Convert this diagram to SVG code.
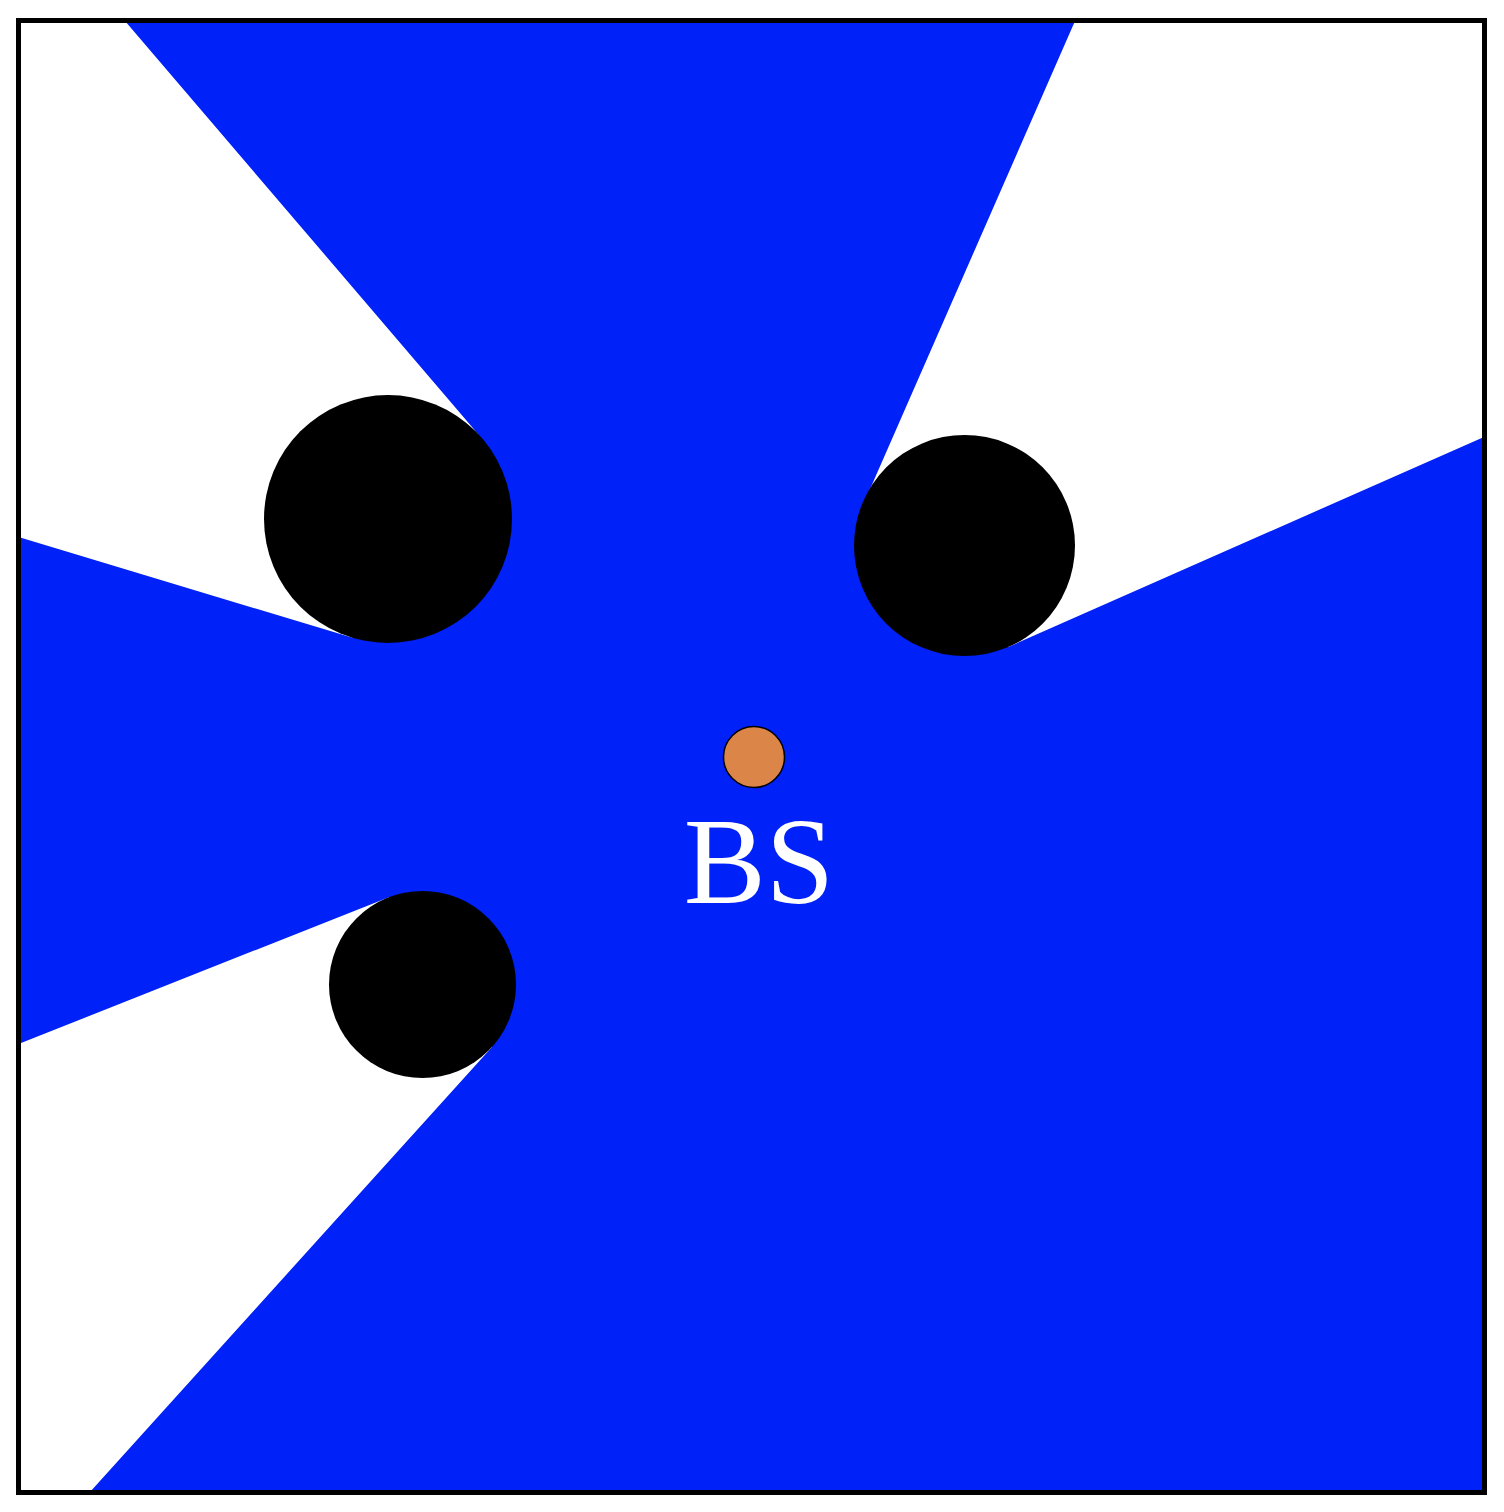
<svg xmlns="http://www.w3.org/2000/svg" width="1504" height="1512" viewBox="0 0 1504 1512">
  <style>
    .shadow { fill: #FFFFFF; stroke: none; }
    .obstacle { fill: #000000; }
    .label { font-family: "Liberation Serif", "Times New Roman", serif; font-size: 123px; fill: #FFFFFF; }
  </style>
  <rect x="0" y="0" width="1504" height="1512" fill="#FFFFFF"/>
  <g id="coverage">
    <rect x="18.5" y="20.5" width="1466" height="1472" fill="#0021F7"/>
    <polygon class="shadow" points="388,519 478,434 125,21 18.5,21 18.5,537 352.7,637.8"/>
    <polygon class="shadow" points="964.5,545.5 864.5,501.8 1075,21 1484,21 1484,437 1008.4,646.9"/>
    <polygon class="shadow" points="422.5,984.5 388.9,897.2 18.5,1044 18.5,1492 90,1492 491.8,1047.2"/>
  </g>
  <g id="obstacle1"><circle class="obstacle" cx="388" cy="519" r="124"/></g>
  <g id="obstacle2"><circle class="obstacle" cx="964.5" cy="545.5" r="110.5"/></g>
  <g id="obstacle3"><circle class="obstacle" cx="422.5" cy="984.5" r="93.5"/></g>
  <g id="bs">
    <circle cx="754" cy="757" r="30.5" fill="#DB8548" stroke="#000000" stroke-width="1.5"/>
    <text class="label" x="759" y="903" text-anchor="middle">BS</text>
  </g>
  <rect x="18.5" y="20.5" width="1466" height="1472" fill="none" stroke="#000000" stroke-width="5"/>
</svg>
